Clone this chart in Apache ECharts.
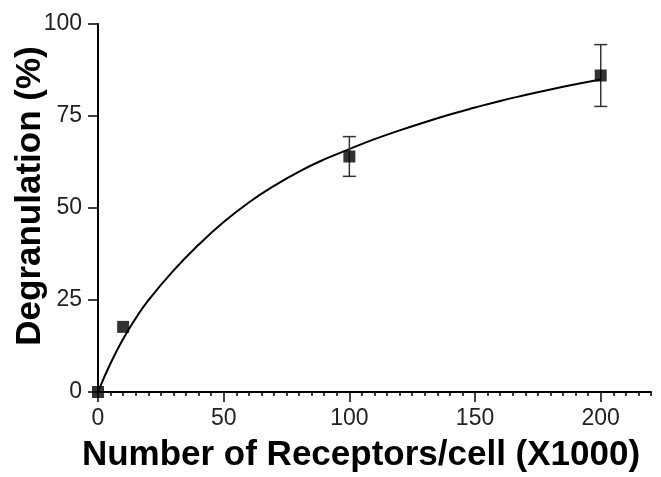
<!DOCTYPE html>
<html>
<head>
<meta charset="utf-8">
<script src="https://cdn.jsdelivr.net/npm/echarts@6/dist/echarts.min.js"></script>
<style>html,body{margin:0;padding:0;background:#fff}#c{width:661px;height:477px}</style>
</head>
<body>
<div id="c"></div>
<script>
// Measured data points (mean ± error)
const pointX = [0, 10, 100, 200];
const pointY = [0, 17.7, 64, 86];
const pointErr = [0, 0, 5.4, 8.4];
// Fitted curve
const curveX = [0, 5, 10, 15, 20, 30, 40, 50, 60, 70, 80, 90, 100, 110, 120, 130, 140, 150, 160, 170, 180, 190, 200];
const curveY = [0, 7.8, 14.4, 20.0, 24.9, 33.0, 40.0, 46.2, 51.5, 56, 59.9, 63.2, 66, 68.7, 71.1, 73.3, 75.4, 77.3, 79.1, 80.7, 82.2, 83.6, 84.9];
// Axis ticks
const xMajorTicks = [0, 50, 100, 150, 200];
const yTicks = [0, 25, 50, 75, 100];

const chart = echarts.init(document.getElementById('c'));
const font = 'Liberation Sans, Arial, Helvetica, sans-serif';

const pts = pointX.map((x, i) => [x, pointY[i], pointErr[i]]);
const curve = curveX.map((x, i) => [x, curveY[i]]);

chart.setOption({
  animation: false,
  backgroundColor: '#fff',
  grid: { left: 98, right: 10, top: 24, bottom: 85, containLabel: false, outerBoundsMode: 'none' },
  xAxis: [
    {
      type: 'value', min: 0, max: 220, interval: 5,
      axisLine: { show: true, lineStyle: { color: '#000', width: 2 } },
      axisTick: { show: true, length: 4, lineStyle: { color: '#000', width: 1.5 } },
      axisLabel: { show: false },
      splitLine: { show: false },
      name: 'Number of Receptors/cell (X1000)',
      nameLocation: 'middle', nameGap: 46,
      nameTextStyle: { fontFamily: font, fontWeight: 'bold', fontSize: 35, color: '#000', padding: [0, 27, 0, 0] }
    },
    {
      type: 'value', min: 0, max: 220, interval: 50, position: 'bottom',
      axisLine: { show: false },
      axisTick: { show: true, length: 10, customValues: xMajorTicks, lineStyle: { color: '#000', width: 1.5 } },
      axisLabel: { show: true, customValues: xMajorTicks, margin: 15, fontFamily: font, fontSize: 23, color: '#222' },
      splitLine: { show: false }
    }
  ],
  yAxis: {
    type: 'value', min: 0, max: 100, interval: 25,
    axisLine: { show: true, lineStyle: { color: '#000', width: 2 } },
    axisTick: { show: true, length: 10, customValues: yTicks, lineStyle: { color: '#000', width: 1.5 } },
    axisLabel: { customValues: yTicks, margin: 16, fontFamily: font, fontSize: 23, color: '#222' },
    splitLine: { show: false },
    name: 'Degranulation (%)',
    nameLocation: 'middle', nameGap: 50, nameMoveOverlap: false,
    nameTextStyle: { fontFamily: font, fontWeight: 'bold', fontSize: 35, color: '#000', padding: [0, 0, 0, 24] }
  },
  series: [
    {
      type: 'line', data: curve, smooth: 0.5, showSymbol: false, symbol: 'none',
      lineStyle: { color: '#000', width: 2 }, z: 2
    },
    {
      type: 'custom', data: pts, z: 3,
      renderItem: function (params, api) {
        const x = api.value(0), y = api.value(1), e = api.value(2);
        const children = [];
        if (e > 0) {
          const top = api.coord([x, y + e]);
          const bot = api.coord([x, y - e]);
          const cap = 6.5;
          const st = { stroke: '#333', lineWidth: 1.5 };
          children.push({ type: 'line', shape: { x1: top[0], y1: top[1], x2: bot[0], y2: bot[1] }, style: st });
          children.push({ type: 'line', shape: { x1: top[0] - cap, y1: top[1], x2: top[0] + cap, y2: top[1] }, style: st });
          children.push({ type: 'line', shape: { x1: bot[0] - cap, y1: bot[1], x2: bot[0] + cap, y2: bot[1] }, style: st });
        }
        return { type: 'group', children: children };
      }
    },
    {
      type: 'scatter', data: pts.map(p => [p[0], p[1]]), symbol: 'rect', symbolSize: 12,
      itemStyle: { color: '#000' }, z: 4
    }
  ]
});
</script>
</body>
</html>
